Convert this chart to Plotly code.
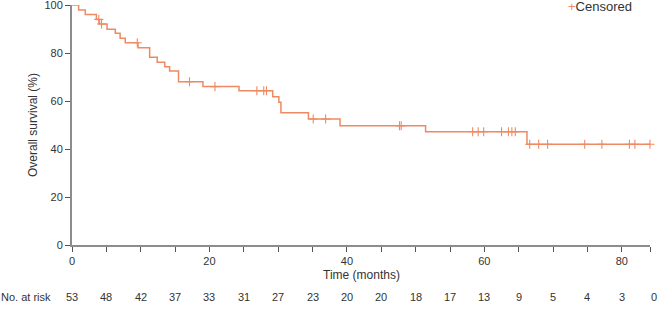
import numpy as np
import plotly.graph_objects as go

# Kaplan-Meier step data (months, % surviving)
step_times = [0, 0.96, 1.93, 3.55, 4.0, 5.1, 6.3, 7.0, 7.75, 9.6, 11.3, 12.4, 13.5,
              14.2, 15.5, 19.05, 24.3, 29.2, 30.1, 30.4, 34.4, 39.0, 51.45, 66.2]
step_surv = [100, 97.9, 96.0, 94.0, 92.1, 89.9, 88.2, 86.1, 84.3, 82.2, 78.2, 76.1, 74.3,
             72.5, 68.0, 66.0, 64.3, 61.8, 59.5, 55.1, 52.5, 49.7, 47.2, 42.0]
end_time = 84.1

# censored observations (months)
censor_times = [3.9, 4.3, 9.5, 17.1, 20.8, 26.9, 27.9, 28.3, 35.1, 36.9, 47.65, 47.9,
                58.3, 59.1, 59.9, 62.5, 63.5, 64.0, 64.5, 66.6, 67.9, 69.2, 74.6, 77.1,
                81.1, 81.9, 84.1]

# number at risk
risk_times = list(range(0, 90, 5))
risk_counts = [53, 48, 42, 37, 33, 31, 27, 23, 20, 20, 18, 17, 13, 9, 5, 4, 3, 0]

x_major = [0, 20, 40, 60, 80]
y_ticks = [0, 20, 40, 60, 80, 100]

LINE = "#EE8A63"
AXIS = "#8C8C8C"
TXT = "#333333"
FONT = "Liberation Sans, Arial, Helvetica, sans-serif"

line_x = step_times + [end_time]
line_y = step_surv + [step_surv[-1]]

idx = np.searchsorted(np.array(step_times), np.array(censor_times), side="right") - 1
censor_y = [step_surv[i] for i in idx]

fig = go.Figure()
fig.add_trace(go.Scatter(x=line_x, y=line_y, mode="lines", line=dict(color=LINE, width=1.5, shape="hv"),
                         cliponaxis=False, showlegend=False, hoverinfo="skip"))
fig.add_trace(go.Scatter(x=censor_times, y=censor_y, mode="markers", name="Censored",
                         marker=dict(symbol="cross-thin", size=6.5, line=dict(color=LINE, width=1.1)),
                         cliponaxis=False, showlegend=False))

xt_vals = list(range(0, 85, 5)) + [end_time]
xt_text = [str(v) if v in x_major else "" for v in xt_vals[:-1]] + [""]

fig.update_xaxes(range=[0, end_time], tickmode="array", tickvals=xt_vals, ticktext=xt_text,
                 ticks="outside", ticklen=5, tickwidth=1, tickcolor="#555555", automargin=False,
                 ticklabeloverflow="allow",
                 showline=True, linecolor=AXIS, linewidth=2, showgrid=False, zeroline=False,
                 tickfont=dict(size=11, color=TXT, family=FONT))
fig.update_yaxes(range=[0, 100], tickmode="array", tickvals=y_ticks, automargin=False,
                 ticklabeloverflow="allow",
                 ticks="outside", ticklen=5, tickwidth=1, tickcolor="#555555",
                 showline=True, linecolor=AXIS, linewidth=2, showgrid=False, zeroline=False,
                 tickfont=dict(size=11, color=TXT, family=FONT))

ann = []
ann.append(dict(text="Time (months)", xref="paper", yref="paper", x=0.5, y=-0.125,
                xanchor="center", yanchor="middle", showarrow=False,
                font=dict(size=12, color=TXT, family=FONT)))
ann.append(dict(text="Overall survival (%)", xref="paper", yref="paper", x=-0.0675, y=0.5,
                textangle=-90, xanchor="center", yanchor="middle", showarrow=False,
                font=dict(size=12, color=TXT, family=FONT)))
ann.append(dict(text="No. at risk", xref="paper", yref="paper", x=-72 / 578, y=-0.2167,
                xanchor="left", yanchor="middle", showarrow=False, xshift=-1,
                font=dict(size=11, color=TXT, family=FONT)))
for t, n in zip(risk_times, risk_counts):
    ann.append(dict(text=str(n), xref="paper", yref="paper", x=t / end_time, y=-0.2167,
                    xanchor="center", yanchor="middle", showarrow=False,
                    xshift=-2 if t > end_time else 0,
                    font=dict(size=11, color=TXT, family=FONT)))
ann.append(dict(text=f'<span style="color:{LINE}">+</span>Censored', xref="paper", yref="paper",
                x=(634 - 72) / 578, y=0.9958, xanchor="right", yanchor="middle", showarrow=False,
                font=dict(size=13, color=TXT, family=FONT)))

fig.update_layout(width=659, height=311, margin=dict(l=72, r=9, t=5, b=66),
                  paper_bgcolor="white", plot_bgcolor="white", annotations=ann,
                  font=dict(family=FONT, color=TXT))

fig.write_html("out.html", config={"displayModeBar": False},
               post_script="document.body.style.margin='0';")
